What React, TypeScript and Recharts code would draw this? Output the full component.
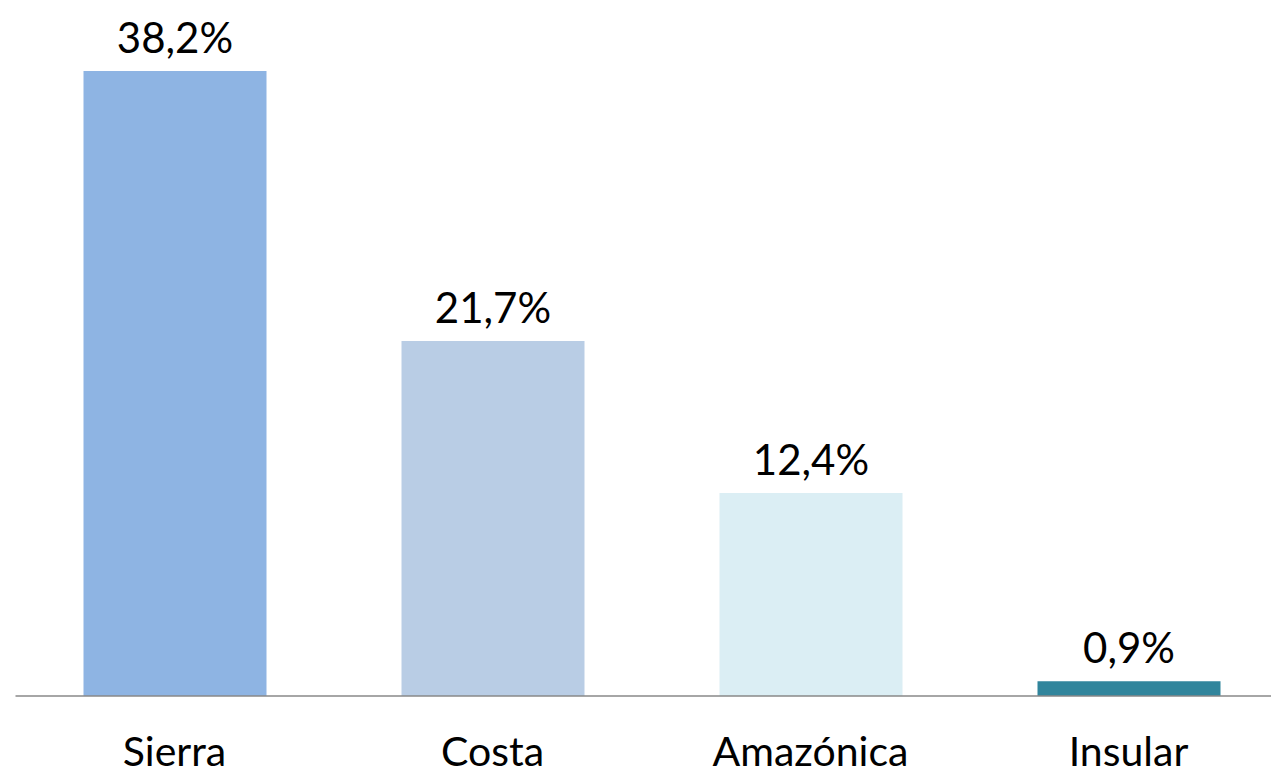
import { BarChart, Bar, XAxis, YAxis, Cell, LabelList } from "recharts"

const regions = ["Sierra", "Costa", "Amazónica", "Insular"]
const shares = [38.2, 21.7, 12.4, 0.9]
const barColors = ["#8EB4E3", "#B9CDE5", "#DBEEF4", "#31859C"]

const data = regions.map((name, i) => ({ name, value: shares[i] }))

const fontFamily = "Lato, 'Open Sans', sans-serif"

const formatPct = (v: number) => v.toFixed(1).replace(".", ",") + "%"

export default function App() {
  // fixed so the wide plot area is clipped without producing scrollbars
  return (
    <div
      style={{
        position: "fixed",
        top: 0,
        left: 0,
        width: 1271,
        height: 775,
        overflow: "hidden",
        background: "#ffffff",
      }}
    >
      <BarChart
        width={1288}
        height={775}
        data={data}
        margin={{ top: 71, right: 0.5, left: 15.5, bottom: 0 }}
        barCategoryGap={0}
      >
        <XAxis
          dataKey="name"
          axisLine={{ stroke: "#898989", strokeWidth: 1.5 }}
          tickLine={false}
          tickSize={0}
          tickMargin={41}
          height={79}
          interval={0}
          tick={{ fill: "#000000", fontSize: 41, fontFamily }}
        />
        <YAxis hide domain={[0, 38.2]} />
        <Bar dataKey="value" barSize={183} isAnimationActive={false}>
          {data.map((d, i) => (
            <Cell key={d.name} fill={barColors[i]} />
          ))}
          <LabelList
            dataKey="value"
            position="top"
            offset={18}
            formatter={(v: any) => formatPct(Number(v))}
            style={{ fill: "#000000", fontSize: 42, fontFamily }}
          />
        </Bar>
      </BarChart>
    </div>
  )
}
